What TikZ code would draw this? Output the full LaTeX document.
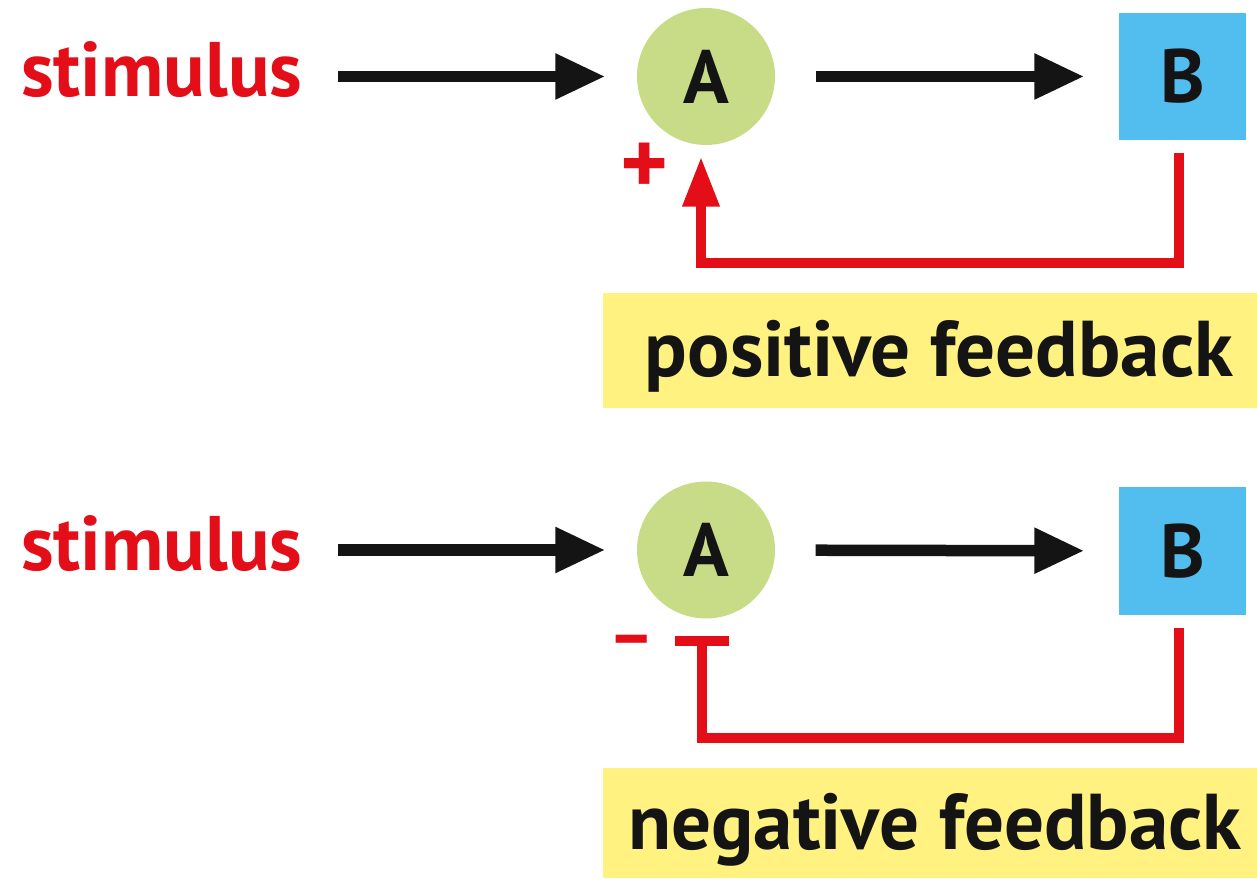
\documentclass[tikz,border=0pt]{standalone}
\usepackage{fontspec}
\setmainfont{PT Sans}
\usetikzlibrary{positioning,arrows.meta,shapes.geometric}
\definecolor{fbred}{RGB}{227,14,24}
\definecolor{agreen}{RGB}{200,220,136}
\definecolor{bblue}{RGB}{82,190,240}
\definecolor{fbyellow}{RGB}{255,242,128}
\definecolor{inkblack}{RGB}{20,20,20}

\begin{document}
\begin{tikzpicture}[
    stimtext/.style={font=\fontsize{22}{22}\selectfont\bfseries, text=fbred, inner sep=0pt},
    anode/.style={ellipse, fill=agreen, minimum width=1.38cm, minimum height=1.37cm, inner sep=0pt,
                  font=\fontsize{21.5}{21.5}\selectfont\bfseries, text=inkblack},
    bnode/.style={rectangle, fill=bblue, minimum width=1.27cm, minimum height=1.27cm, inner sep=0pt,
                  font=\fontsize{21.5}{21.5}\selectfont\bfseries, text=inkblack},
    fbbox/.style={rectangle, fill=fbyellow, minimum width=6.54cm, inner sep=0pt},
    fbtext/.style={font=\fontsize{22.5}{22.5}\selectfont\bfseries, text=inkblack, inner sep=0pt},
    signtext/.style={font=\fontsize{26}{26}\selectfont\bfseries, text=fbred, inner sep=0pt},
    mainarrow/.style={draw=inkblack, line width=1.15mm, -{Triangle[length=5mm, width=4.3mm]}},
    fbline/.style={draw=fbred, line width=1mm},
]
\useasboundingbox (0,0) rectangle (12.57,8.78);

% Positive feedback loop
\node[stimtext, anchor=base east] (stim1) at (3.03,7.81) {stimulus};
\node[anode] (A1) at (7.06,8.015) {A};
\node[bnode] (B1) at (11.825,8.015) {B};
\draw[mainarrow, shorten <=3.5mm, shorten >=3.1mm] (stim1.east |- A1) -- (A1);
\draw[mainarrow, shorten <=4mm, shorten >=3.4mm] (A1) -- (B1);
\draw[fbline, -{Triangle[length=5mm, width=3.5mm]}]
    ([xshift=-0.35mm, yshift=-1.2mm]B1.south) -- ++(0,-1.10) -| ([xshift=-0.5mm, yshift=-1.1mm]A1.south);
\node[signtext] (plus) at (6.45,7.09) {+};
\node[fbbox, minimum height=1.15cm] (pos) at (9.30,5.275) {};
\node[fbtext, anchor=base] (postext) at (9.39,5.01) {positive feedback};

% Negative feedback loop
\node[stimtext, anchor=base east] (stim2) at (3.03,3.075) {stimulus};
\node[anode] (A2) at (7.06,3.28) {A};
\node[bnode, minimum height=1.28cm] (B2) at (11.825,3.27) {B};
\draw[mainarrow, shorten <=3.5mm, shorten >=3.1mm] (stim2.east |- A2) -- (A2);
\draw[mainarrow, shorten <=4mm, shorten >=3.4mm] (A2) -- (B2);
\draw[fbline, -{Bar[width=5.4mm]}]
    ([xshift=-0.35mm, yshift=-1.2mm]B2.south) -- ++(0,-1.10) -| ([xshift=-0.4mm, yshift=-1.7mm]A2.south);
\node[font=\fontsize{20}{20}\selectfont\bfseries, text=fbred, inner sep=0pt] (minus) at (6.315,2.31) {–};
\node[fbbox, minimum height=1.1cm] (neg) at (9.30,0.55) {};
\node[fbtext, anchor=base] (negtext) at (9.35,0.29) {negative feedback};
\end{tikzpicture}
\end{document}
